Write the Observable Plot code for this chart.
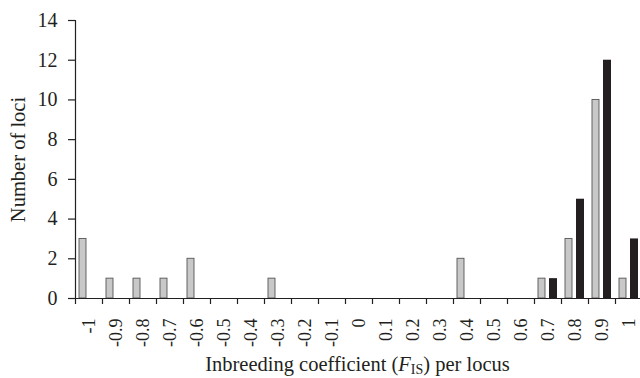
<!DOCTYPE html>
<html>
<head>
<meta charset="utf-8">
<script src="https://cdn.jsdelivr.net/npm/d3@7"></script>
<script src="https://cdn.jsdelivr.net/npm/@observablehq/plot@0.6"></script>
<style>
  html, body { margin: 0; padding: 0; background: #fff; }
  #wrap { position: relative; width: 640px; height: 378px; overflow: hidden; }
  #xlabel { position: absolute; left: 75px; width: 565px; top: 353px; text-align: center;
    font-family: "Liberation Serif", serif; font-size: 20.5px; color: #231f20; line-height: 22px; white-space: nowrap; }
  #xlabel sub { font-size: 14px; vertical-align: -3px; line-height: 0; }
</style>
</head>
<body>
<div id="wrap"><div id="chart"></div><div id="xlabel">Inbreeding coefficient (<i>F</i><sub>IS</sub>) per locus</div></div>
<script>
const categories = ["-1","-0.9","-0.8","-0.7","-0.6","-0.5","-0.4","-0.3","-0.2","-0.1","0","0.1","0.2","0.3","0.4","0.5","0.6","0.7","0.8","0.9","1"];
const greyCounts  = [3,1,1,1,2,0,0,1,0,0,0,0,0,0,2,0,0,1,3,10,1];
const blackCounts = [0,0,0,0,0,0,0,0,0,0,0,0,0,0,0,0,0,1,5,12,3];
const yTicks = [0,2,4,6,8,10,12,14];
const yLabel = "Number of loci";

const rows = categories.map((c, i) => ({cat: c, grey: greyCounts[i], black: blackCounts[i]}));

const chart = Plot.plot({
  width: 640,
  height: 350,
  marginTop: 20,
  marginBottom: 52,
  marginLeft: 75,
  marginRight: -2,
  style: {fontFamily: "Liberation Serif, serif", color: "#231f20", background: "#fff"},
  x: {type: "band", domain: categories, padding: 0},
  y: {domain: [0, 14]},
  marks: [
    Plot.barY(rows.filter(d => d.grey > 0), {x: "cat", y: "grey", fill: "#c8c8c8", stroke: "#555", strokeWidth: 0.9, insetLeft: 4, insetRight: 16}),
    Plot.barY(rows.filter(d => d.black > 0), {x: "cat", y: "black", fill: "#231f20", insetLeft: 15, insetRight: 4}),
    Plot.ruleY([0], {stroke: "#231f20", strokeWidth: 1.2}),
    Plot.frame({anchor: "left", stroke: "#231f20", strokeWidth: 1.2}),
    Plot.axisY({ticks: yTicks, tickSize: 7, tickPadding: 11, fontSize: 20, label: null, strokeWidth: 1.2}),
    Plot.axisX({tickSize: 6, tickFormat: () => "", dx: -13.5, label: null, strokeWidth: 1.2}),
    Plot.axisX({tickSize: 0, tickPadding: 20, tickRotate: -90, fontSize: 18, label: null}),
    Plot.text([yLabel], {text: d => d, frameAnchor: "left", textAnchor: "middle", lineAnchor: "middle", rotate: -90, dx: -57, fontSize: 20.5, fill: "#231f20"})
  ]
});
document.getElementById("chart").appendChild(chart);
</script>
</body>
</html>
